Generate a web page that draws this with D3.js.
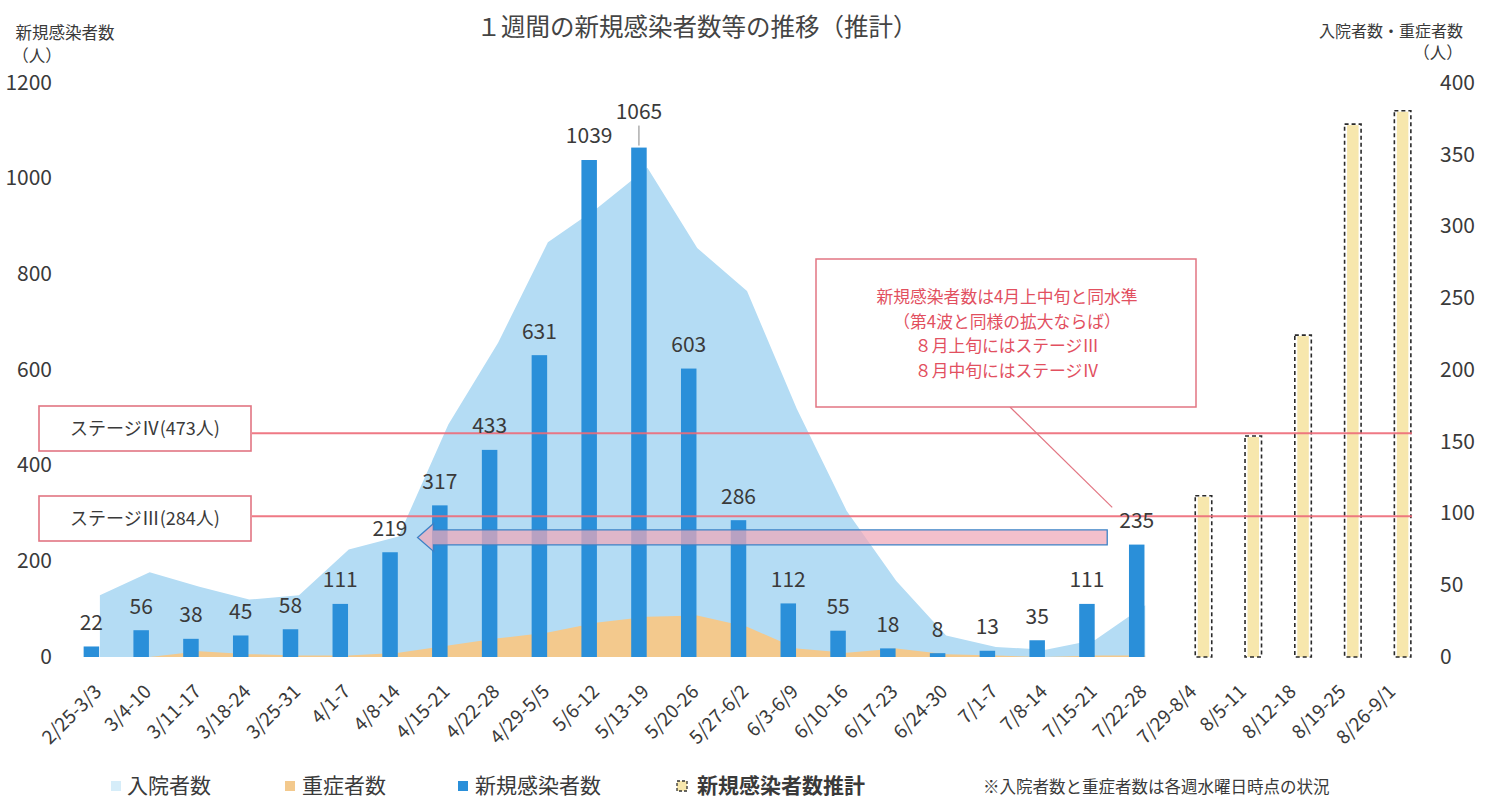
<!DOCTYPE html>
<html><head><meta charset="utf-8">
<script src="https://cdn.jsdelivr.net/npm/d3@7"></script>
<style>
body{margin:0;background:#fff;}
svg{display:block;}
text{font-family:"Noto Sans CJK JP","Noto Sans",sans-serif;}
</style>
</head><body>
<svg id="c" width="1490" height="798"></svg>
<script>
// ---------- data ----------
const categories = ["2/25-3/3","3/4-10","3/11-17","3/18-24","3/25-31","4/1-7","4/8-14","4/15-21","4/22-28","4/29-5/5","5/6-12","5/13-19","5/20-26","5/27-6/2","6/3-6/9","6/10-16","6/17-23","6/24-30","7/1-7","7/8-14","7/15-21","7/22-28","7/29-8/4","8/5-11","8/12-18","8/19-25","8/26-9/1"];
const observedCategories = categories.slice(0, 22);
const estimateCategories = ["7/29-8/4","8/5-11","8/12-18","8/19-25","8/26-9/1"];
const newCases = [22,56,38,45,58,111,219,317,433,631,1039,1065,603,286,112,55,18,8,13,35,111,235];
const newCasesEstimate = [337,462,673,1114,1142];
const hospitalized = [43,59,49,40,43,75,84,162,219,289,313,341,285,255,173,102,53,15,7,5,12,36];
const severe = [0,0,4,2,1,1,3,8,13,17,24,28,29,21,6,3,6,2,1,0,1,1];
const leftTicks = [0,200,400,600,800,1000,1200];
const rightTicks = [0,50,100,150,200,250,300,350,400];
const stageLabels = ["ステージⅣ(473人)","ステージⅢ(284人)"];
const stageValues = [468, 294];   // positions (left axis units)
const annotationLines = ["新規感染者数は4月上中旬と同水準","（第4波と同様の拡大ならば）","８月上旬にはステージⅢ","８月中旬にはステージⅣ"];
const legendLabels = ["入院者数","重症者数","新規感染者数","新規感染者数推計"];
const title = "１週間の新規感染者数等の推移（推計）";
const arrowLevel = 250;

// ---------- layout ----------
const svg = d3.select("#c");
const FONT = '"Noto Sans CJK JP","Noto Sans",sans-serif';
const TXT = "#3a3a3a";
const x = d3.scaleBand().domain(categories).range([75, 1419]);
const xc = d => x(d) + x.bandwidth() / 2;
const yL = d3.scaleLinear().domain([0, 1200]).range([657, 83]);
const yR = d3.scaleLinear().domain([0, 400]).range([657, 83]);
const barOff = 8.5, barW = 15.5, estW = 16.5;

// title
svg.append("text").attr("x", 697).attr("y", 27).attr("dy", "0.35em")
  .attr("text-anchor", "middle").attr("font-size", 24.5).attr("fill", "#444").text(title);

// axis titles
svg.append("text").attr("x", 65).attr("y", 33).attr("dy", "0.35em").attr("text-anchor", "middle")
  .attr("font-size", 16.5).attr("fill", TXT).text("新規感染者数");
svg.append("text").attr("x", 37).attr("y", 56).attr("dy", "0.35em").attr("text-anchor", "middle")
  .attr("font-size", 16.5).attr("fill", TXT).text("（人）");
svg.append("text").attr("x", 1391).attr("y", 31).attr("dy", "0.35em").attr("text-anchor", "middle")
  .attr("font-size", 16).attr("fill", TXT).text("入院者数・重症者数");
svg.append("text").attr("x", 1438).attr("y", 53).attr("dy", "0.35em").attr("text-anchor", "middle")
  .attr("font-size", 16.5).attr("fill", TXT).text("（人）");

// axes
const gl = svg.append("g").attr("transform", "translate(52,0)")
  .call(d3.axisLeft(yL).tickValues(leftTicks).tickFormat(d3.format("d")).tickSize(0).tickPadding(0));
gl.select(".domain").remove();
gl.selectAll("text").attr("font-size", 21).attr("font-family", FONT).attr("fill", TXT).attr("dy", "0.3em");

const gr = svg.append("g").attr("transform", "translate(1440,0)")
  .call(d3.axisRight(yR).tickValues(rightTicks).tickFormat(d3.format("d")).tickSize(0).tickPadding(0));
gr.select(".domain").remove();
gr.selectAll("text").attr("font-size", 21).attr("font-family", FONT).attr("fill", TXT).attr("dy", "0.3em");

const gx = svg.append("g").attr("transform", "translate(0,657)")
  .call(d3.axisBottom(x).tickSize(0).tickPadding(0));
gx.select(".domain").remove();
gx.selectAll("text").attr("font-size", 19).attr("font-family", FONT).attr("fill", TXT)
  .attr("y", 0).attr("dy", "0.35em").attr("text-anchor", "end")
  .attr("transform", "translate(-2,31) rotate(-45)");

// areas
const hospData = observedCategories.map((c, i) => ({c, v: hospitalized[i]}));
const sevData = observedCategories.map((c, i) => ({c, v: severe[i]}));
const areaGen = d3.area().x(d => xc(d.c)).y0(yR(0)).y1(d => yR(d.v));
svg.append("path").datum(hospData).attr("d", areaGen).attr("fill", "#b4dcf4");
svg.append("path").datum(sevData).attr("d", areaGen).attr("fill", "#f3c98d");

// new cases bars
const obs = observedCategories.map((c, i) => ({c, v: newCases[i]}));
svg.append("g").selectAll("rect").data(obs).join("rect")
  .attr("x", d => xc(d.c) - barOff - barW / 2).attr("width", barW)
  .attr("y", d => yL(d.v)).attr("height", d => yL(0) - yL(d.v))
  .attr("fill", "#2a8fd9");

// estimate bars
const est = estimateCategories.map((c, i) => ({c, v: newCasesEstimate[i]}));
const ge = svg.append("g");
ge.selectAll("rect.f").data(est).join("rect").attr("class", "f")
  .attr("x", d => xc(d.c) + barOff - estW / 2 + 2.5).attr("width", estW - 5)
  .attr("y", d => yL(d.v) + 1).attr("height", d => yL(0) - yL(d.v) - 1)
  .attr("fill", "#f7e7ad");
ge.selectAll("rect.o").data(est).join("rect").attr("class", "o")
  .attr("x", d => xc(d.c) + barOff - estW / 2).attr("width", estW)
  .attr("y", d => yL(d.v)).attr("height", d => yL(0) - yL(d.v))
  .attr("fill", "none").attr("stroke", "#2a2a2a").attr("stroke-width", 1.6)
  .attr("stroke-dasharray", "4 3");

// stage lines and boxes
const stageBoxTop = [406, 496];
stageValues.forEach((v, i) => {
  svg.append("line").attr("x1", 252).attr("x2", 1412).attr("y1", yL(v)).attr("y2", yL(v))
    .attr("stroke", "#ee6b78").attr("stroke-width", 2).attr("opacity", 0.9);
  svg.append("rect").attr("x", 39).attr("y", stageBoxTop[i]).attr("width", 212).attr("height", 45)
    .attr("fill", "#fff").attr("stroke", "#e27582").attr("stroke-width", 1.6);
  svg.append("text").attr("x", 145).attr("y", stageBoxTop[i] + 22.5).attr("dy", "0.35em")
    .attr("text-anchor", "middle").attr("font-size", 18).attr("fill", TXT).text(stageLabels[i]);
});

// arrow
const ay = yL(arrowLevel);
const tipX = xc("4/8-14") + 19, endX = xc("7/22-28") - 38, baseX = tipX + 16;
svg.append("path")
  .attr("d", `M${tipX},${ay} L${baseX},${ay - 14} L${baseX},${ay - 7.5} L${endX},${ay - 7.5} L${endX},${ay + 7.5} L${baseX},${ay + 7.5} L${baseX},${ay + 14} Z`)
  .attr("fill", "#f0a7b8").attr("fill-opacity", 0.72)
  .attr("stroke", "#3d82c6").attr("stroke-width", 1.3);

// annotation box
svg.append("line").attr("x1", 1010).attr("y1", 407).attr("x2", endX + 5).attr("y2", ay - 30)
  .attr("stroke", "#e27582").attr("stroke-width", 1.2);
svg.append("rect").attr("x", 816).attr("y", 259).attr("width", 380).attr("height", 148)
  .attr("fill", "#fff").attr("stroke", "#e27582").attr("stroke-width", 1.5);
annotationLines.forEach((t, i) => {
  svg.append("text").attr("x", 1007).attr("y", 297 + i * 24.7).attr("dy", "0.35em")
    .attr("text-anchor", "middle").attr("font-size", 16.8).attr("fill", "#e2505f").text(t);
});

// value labels
const gLab = svg.append("g");
const maxV = d3.max(newCases);
obs.forEach(d => {
  const top = yL(d.v);
  const off = d.v === maxV ? 36 : 24;
  gLab.append("text").attr("x", xc(d.c) - barOff).attr("y", top - off).attr("dy", "0.35em")
    .attr("text-anchor", "middle").attr("font-size", 21).attr("fill", TXT).text(d.v);
  if (d.v === maxV) {
    gLab.append("line").attr("x1", xc(d.c) - barOff).attr("x2", xc(d.c) - barOff)
      .attr("y1", top - 22).attr("y2", top - 2).attr("stroke", "#666").attr("stroke-width", 0.8);
  }
});

// legend
const ly = 786;
const legendItems = [
  {mx: 111, tx: 127, fill: "#d6edf9", stroke: null, bold: false},
  {mx: 285, tx: 302, fill: "#f3c98d", stroke: null, bold: false},
  {mx: 458, tx: 475, fill: "#2a8fd9", stroke: null, bold: false},
  {mx: 677, tx: 697, fill: "#f7e7ad", stroke: "#333", bold: true}
];
legendItems.forEach((it, i) => {
  const r = svg.append("rect").attr("x", it.mx).attr("y", ly - 5).attr("width", 10).attr("height", 10)
    .attr("fill", it.fill);
  if (it.stroke) r.attr("stroke", it.stroke).attr("stroke-width", 1.3).attr("stroke-dasharray", "3 2");
  svg.append("text").attr("x", it.tx).attr("y", ly).attr("dy", "0.35em").attr("font-size", 21)
    .attr("font-weight", it.bold ? "bold" : "normal").attr("fill", TXT).text(legendLabels[i]);
});
svg.append("text").attr("x", 983).attr("y", 787).attr("dy", "0.35em").attr("font-size", 16.5)
  .attr("fill", TXT).text("※入院者数と重症者数は各週水曜日時点の状況");
</script>
</body></html>
